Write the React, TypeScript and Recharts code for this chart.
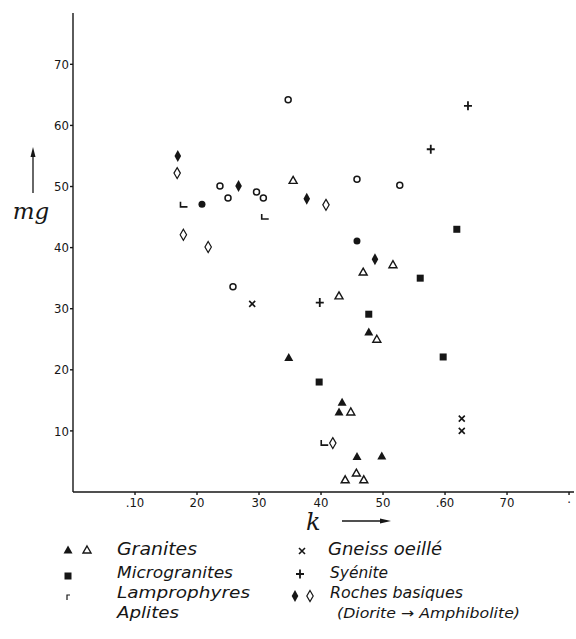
import { ScatterChart, Scatter, XAxis, YAxis } from 'recharts';

// axis ticks
const kTicks = [0.1, 0.2, 0.3, 0.4, 0.5, 0.6, 0.7, 0.8];
const kTickLabels = ['.10', '20', '30', '40', '50', '.60', '70', '·'];
const mgTicks = [10, 20, 30, 40, 50, 60, 70];

// Granites (filled / open triangles)
const granitesFilledK = [0.348, 0.434, 0.429, 0.477, 0.458, 0.498];
const granitesFilledMg = [22, 14.7, 13.1, 26.2, 5.8, 5.9];
const granitesOpenK = [0.355, 0.516, 0.468, 0.429, 0.49, 0.448, 0.439, 0.457, 0.469];
const granitesOpenMg = [51, 37.2, 36, 32.1, 25, 13.1, 2, 3.1, 2];

// Microgranites
const microK = [0.619, 0.56, 0.477, 0.597, 0.397];
const microMg = [43, 35, 29.1, 22.1, 18];

// Lamprophyres
const lamproK = [0.179, 0.31, 0.406];
const lamproMg = [47, 45, 8];

// Aplites (open / filled circles)
const aplitesOpenK = [0.347, 0.237, 0.296, 0.307, 0.25, 0.258, 0.458, 0.527];
const aplitesOpenMg = [64.2, 50.1, 49.1, 48.1, 48.1, 33.6, 51.2, 50.2];
const aplitesFilledK = [0.208, 0.458];
const aplitesFilledMg = [47.1, 41.1];

// Gneiss oeillé
const gneissK = [0.289, 0.627, 0.627];
const gneissMg = [30.8, 12, 10];

// Syénite
const syeniteK = [0.637, 0.577, 0.398];
const syeniteMg = [63.2, 56.1, 31];

// Roches basiques (filled / open diamonds)
const basiquesFilledK = [0.169, 0.267, 0.377, 0.487];
const basiquesFilledMg = [55, 50.1, 48, 38.1];
const basiquesOpenK = [0.168, 0.178, 0.218, 0.408, 0.419];
const basiquesOpenMg = [52.2, 42.1, 40.1, 47, 8];

const zip = (k: number[], mg: number[]) => k.map((v, i) => ({ k: v, mg: mg[i] }));

const ink = '#161616';
const font = '"DejaVu Sans Condensed", "DejaVu Sans", sans-serif';

type P = { cx?: number; cy?: number };

const TriFilled = ({ cx = 0, cy = 0 }: P) => (
  <path d={`M${cx},${cy - 4.5}L${cx + 4.5},${cy + 3.5}L${cx - 4.5},${cy + 3.5}Z`} fill={ink} />
);
const TriOpen = ({ cx = 0, cy = 0 }: P) => (
  <path d={`M${cx},${cy - 4}L${cx + 4},${cy + 3}L${cx - 4},${cy + 3}Z`} fill="#fff" stroke={ink} strokeWidth={1.4} />
);
const Square = ({ cx = 0, cy = 0 }: P) => (
  <rect x={cx - 3.5} y={cy - 3.5} width={7} height={7} fill={ink} />
);
const DotFilled = ({ cx = 0, cy = 0 }: P) => <circle cx={cx} cy={cy} r={3.5} fill={ink} />;
const DotOpen = ({ cx = 0, cy = 0 }: P) => (
  <circle cx={cx} cy={cy} r={3} fill="#fff" stroke={ink} strokeWidth={1.5} />
);
const DiaFilled = ({ cx = 0, cy = 0 }: P) => (
  <path d={`M${cx},${cy - 6}L${cx + 3.3},${cy}L${cx},${cy + 6}L${cx - 3.3},${cy}Z`} fill={ink} />
);
const DiaOpen = ({ cx = 0, cy = 0 }: P) => (
  <path d={`M${cx},${cy - 5.5}L${cx + 3.2},${cy}L${cx},${cy + 5.5}L${cx - 3.2},${cy}Z`} fill="#fff" stroke={ink} strokeWidth={1.2} />
);
const Cross = ({ cx = 0, cy = 0 }: P) => (
  <path d={`M${cx - 3},${cy - 3}L${cx + 3},${cy + 3}M${cx + 3},${cy - 3}L${cx - 3},${cy + 3}`} stroke={ink} strokeWidth={1.6} />
);
const Plus = ({ cx = 0, cy = 0 }: P) => (
  <path d={`M${cx - 4},${cy}L${cx + 4},${cy}M${cx},${cy - 4.5}L${cx},${cy + 4.5}`} stroke={ink} strokeWidth={1.8} />
);
const Lampro = ({ cx = 0, cy = 0 }: P) => (
  <path d={`M${cx - 3.5},${cy - 3}L${cx - 3.5},${cy + 2}L${cx + 3.5},${cy + 2}`} fill="none" stroke={ink} strokeWidth={1.6} />
);

const legendText = { fontFamily: font, fontStyle: 'italic' as const, fill: ink };

export default function App() {
  return (
    <div style={{ position: 'absolute', left: 0, top: 0, width: 576, height: 639, background: '#fff' }}>
      <ScatterChart width={576} height={639} margin={{ top: 13, right: 2, left: 43, bottom: 127 }}>
        <XAxis
          type="number"
          dataKey="k"
          domain={[0, 0.808]}
          ticks={kTicks}
          tickFormatter={(v: number) => kTickLabels[kTicks.indexOf(v)] ?? ''}
          height={20}
          stroke={ink}
          strokeWidth={1.4}
          tickSize={3}
          tickMargin={3}
          tick={{ fontSize: 13, fill: ink, fontFamily: font }}
          allowDataOverflow
        />
        <YAxis
          type="number"
          dataKey="mg"
          domain={[0, 78.4]}
          ticks={mgTicks}
          width={30}
          stroke={ink}
          strokeWidth={1.4}
          tickSize={3}
          tickMargin={1}
          tick={{ fontSize: 13, fill: ink, fontFamily: font }}
          allowDataOverflow
        />
        <Scatter name="Granites" data={zip(granitesFilledK, granitesFilledMg)} shape={TriFilled} isAnimationActive={false} />
        <Scatter name="Granites (open)" data={zip(granitesOpenK, granitesOpenMg)} shape={TriOpen} isAnimationActive={false} />
        <Scatter name="Microgranites" data={zip(microK, microMg)} shape={Square} isAnimationActive={false} />
        <Scatter name="Lamprophyres" data={zip(lamproK, lamproMg)} shape={Lampro} isAnimationActive={false} />
        <Scatter name="Aplites" data={zip(aplitesOpenK, aplitesOpenMg)} shape={DotOpen} isAnimationActive={false} />
        <Scatter name="Aplites (filled)" data={zip(aplitesFilledK, aplitesFilledMg)} shape={DotFilled} isAnimationActive={false} />
        <Scatter name="Gneiss oeillé" data={zip(gneissK, gneissMg)} shape={Cross} isAnimationActive={false} />
        <Scatter name="Syénite" data={zip(syeniteK, syeniteMg)} shape={Plus} isAnimationActive={false} />
        <Scatter name="Roches basiques" data={zip(basiquesFilledK, basiquesFilledMg)} shape={DiaFilled} isAnimationActive={false} />
        <Scatter name="Roches basiques (open)" data={zip(basiquesOpenK, basiquesOpenMg)} shape={DiaOpen} isAnimationActive={false} />
      </ScatterChart>

      <svg width={576} height={639} style={{ position: 'absolute', left: 0, top: 0, pointerEvents: 'none' }}>
        {/* mg axis label */}
        <path d="M33,193L33,152" stroke={ink} strokeWidth={1.3} />
        <path d="M30.5,157L33,147L35.5,157Z" fill={ink} />
        <text x={31} y={219} textAnchor="middle" fontSize={23} {...legendText} fontFamily="'DejaVu Serif', serif">mg</text>

        {/* k axis label */}
        <text x={306} y={530} fontSize={24} {...legendText} fontFamily="'DejaVu Serif', serif">k</text>
        <path d="M342,521L382,521" stroke={ink} strokeWidth={1.5} />
        <path d="M380,518.5L391,521L380,523.5Z" fill={ink} />

        {/* legend, left column */}
        <TriFilled cx={68} cy={550} />
        <TriOpen cx={87} cy={550} />
        <text x={117} y={555} fontSize={18} textLength={80} lengthAdjust="spacingAndGlyphs" {...legendText}>Granites</text>
        <Square cx={68} cy={576} />
        <text x={117} y={578} fontSize={16} textLength={116} lengthAdjust="spacingAndGlyphs" {...legendText}>Microgranites</text>
        <path d="M67,600L67,595L70,595" fill="none" stroke={ink} strokeWidth={1.2} />
        <text x={117} y={598} fontSize={16} textLength={133} lengthAdjust="spacingAndGlyphs" {...legendText}>Lamprophyres</text>
        <text x={117} y={618} fontSize={16} textLength={62} lengthAdjust="spacingAndGlyphs" {...legendText}>Aplites</text>

        {/* legend, right column */}
        <Cross cx={302} cy={551} />
        <text x={328} y={555} fontSize={18} textLength={114} lengthAdjust="spacingAndGlyphs" {...legendText}>Gneiss oeillé</text>
        <Plus cx={300} cy={574} />
        <text x={330} y={578} fontSize={16} textLength={58} lengthAdjust="spacingAndGlyphs" {...legendText}>Syénite</text>
        <DiaFilled cx={295} cy={596} />
        <DiaOpen cx={310} cy={596} />
        <text x={330} y={598} fontSize={16} textLength={133} lengthAdjust="spacingAndGlyphs" {...legendText}>Roches basiques</text>
        <text x={337} y={618} fontSize={14} textLength={183} lengthAdjust="spacingAndGlyphs" {...legendText}>(Diorite → Amphibolite)</text>
      </svg>
    </div>
  );
}
